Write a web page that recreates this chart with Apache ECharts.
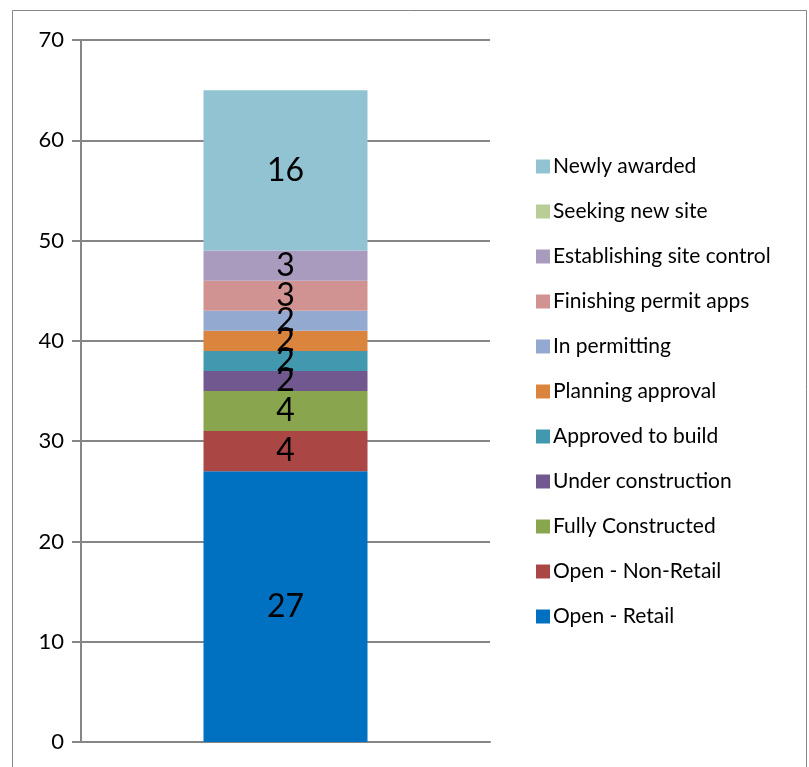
<!DOCTYPE html>
<html>
<head>
<meta charset="utf-8">
<script src="https://cdn.jsdelivr.net/npm/echarts@6/dist/echarts.min.js"></script>
<style>
  html, body { margin: 0; padding: 0; background: #fff; }
  #chart { width: 809px; height: 767px; }
</style>
</head>
<body>
<div id="chart"></div>
<script>
// stacked from bottom to top
var seriesNames = [
  "Open - Retail",
  "Open - Non-Retail",
  "Fully Constructed",
  "Under construction",
  "Approved to build",
  "Planning approval",
  "In permitting",
  "Finishing permit apps",
  "Establishing site control",
  "Seeking new site",
  "Newly awarded"
];
var seriesValues = [27, 4, 4, 2, 2, 2, 2, 3, 3, 0, 16];
var seriesColors = [
  "#0070C0", "#AA4644", "#89A54E", "#71588F", "#4198AF",
  "#DB843D", "#93A9CF", "#D19392", "#A99BBD", "#B9CD96", "#92C3D3"
];
var categories = [""];
var yTicks = { min: 0, max: 70, interval: 10 };

var serves = [];
seriesNames.forEach(function (name, i) {
  serves.push({
    name: name,
    type: "bar",
    stack: "total",
    barWidth: 164,
    data: [seriesValues[i]],
    itemStyle: { color: seriesColors[i] },
    label: {
      show: true,
      position: "inside",
      color: "#000",
      fontFamily: "Lato",
      fontSize: 32,
      formatter: function (p) { return p.value ? String(p.value) : ""; }
    }
  });
});

var option = {
  animation: false,
  graphic: [{
    type: "rect",
    shape: { x: 12.5, y: 10.5, width: 794, height: 770 },
    style: { fill: "none", stroke: "#868686", lineWidth: 1 }
  }],
  grid: { left: 81, top: 40, right: 319, bottom: 25 },
  legend: {
    orient: "vertical",
    left: 531,
    top: 151,
    itemWidth: 14,
    itemHeight: 14,
    itemGap: 24,
    icon: "rect",
    data: seriesNames.slice().reverse(),
    textStyle: { color: "#000", fontFamily: "Lato", fontSize: 21, lineHeight: 21, padding: [0, 0, 0, -2] }
  },
  xAxis: {
    type: "category",
    data: categories,
    axisLine: { lineStyle: { color: "#868686", width: 2 } },
    axisTick: { show: false },
    axisLabel: { show: false }
  },
  yAxis: {
    type: "value",
    min: yTicks.min,
    max: yTicks.max,
    interval: yTicks.interval,
    axisLine: { show: true, lineStyle: { color: "#868686", width: 2 } },
    axisTick: { show: true, length: 9, lineStyle: { color: "#868686", width: 2 } },
    axisLabel: { color: "#000", fontFamily: "Lato", fontSize: 22, margin: 17 },
    splitLine: { show: true, lineStyle: { color: "#868686", width: 2 } }
  },
  series: serves
};

var myechart = echarts.init(document.getElementById("chart"));
myechart.setOption(option);
</script>
</body>
</html>
